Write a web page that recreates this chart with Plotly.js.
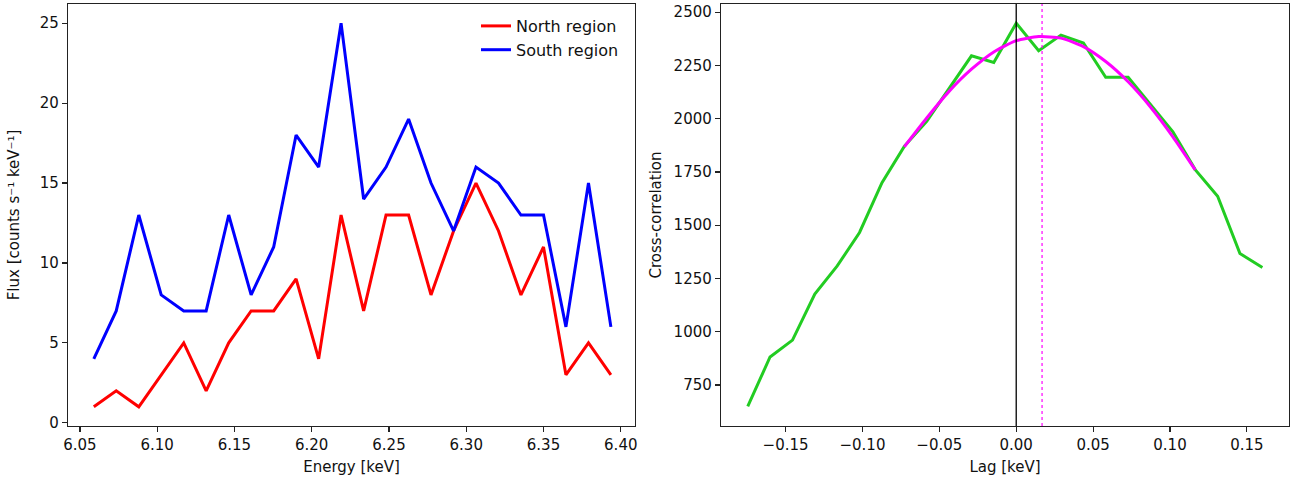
<!DOCTYPE html>
<html>
<head>
<meta charset="utf-8">
<script src="https://cdn.plot.ly/plotly-3.0.1.min.js"></script>
<style>html,body{margin:0;padding:0;background:#fff;}#chart{width:1303px;height:483px;}</style>
</head>
<body>
<div id="chart"></div>
<script>
// ---- Left panel: spectra ----
const energy = [6.0590, 6.0735, 6.0881, 6.1026, 6.1172, 6.1317, 6.1463, 6.1608,
                6.1754, 6.1899, 6.2045, 6.2190, 6.2336, 6.2481, 6.2627, 6.2772,
                6.2918, 6.3063, 6.3209, 6.3354, 6.3500, 6.3645, 6.3791, 6.3936];
const northFlux = [1, 2, 1, 3, 5, 2, 5, 7, 7, 9, 4, 13, 7, 13, 13, 8, 12, 15, 12, 8, 11, 3, 5, 3];
const southFlux = [4, 7, 13, 8, 7, 7, 13, 8, 11, 18, 16, 25, 14, 16, 19, 15, 12, 16, 15, 13, 13, 6, 15, 6];
const seriesNames = ["North region", "South region"];

// ---- Right panel: cross-correlation ----
const lag = [-0.1746, -0.1601, -0.1455, -0.1310, -0.1164, -0.1019, -0.0873, -0.0728,
             -0.0582, -0.0437, -0.0291, -0.0146, 0.0000, 0.0146, 0.0291, 0.0437,
             0.0582, 0.0728, 0.0873, 0.1019, 0.1164, 0.1310, 0.1455, 0.1601];
const crossCorr = [650, 882, 961, 1177, 1309, 1466, 1700, 1870, 1988, 2139, 2295, 2264,
                   2448, 2319, 2392, 2355, 2194, 2194, 2066, 1938, 1761, 1636, 1367, 1302];
const fitLag = [-0.0728, -0.0582, -0.0437, -0.0291, -0.0146, 0.0000, 0.0146,
                0.0291, 0.0437, 0.0582, 0.0728, 0.0873, 0.1019, 0.1164];
const fitValues = [1868, 2003, 2128, 2232, 2313, 2366, 2385, 2378, 2338, 2268, 2173, 2055, 1915, 1760];
const peakLag = 0.0168;

const W = 1303, H = 483;
const FONT = "DejaVu Sans, Liberation Sans, sans-serif";
const axisBase = {
  showline: true, mirror: true, linecolor: "#222", linewidth: 1.2,
  ticks: "outside", ticklen: 5, tickwidth: 1.2, tickcolor: "#222",
  showgrid: false, zeroline: false,
  tickfont: {family: FONT, size: 15, color: "#111"},
  automargin: false
};

const traces = [
  {x: energy, y: northFlux, name: seriesNames[0], type: "scatter", mode: "lines",
   line: {color: "#ff0000", width: 3}, xaxis: "x", yaxis: "y"},
  {x: energy, y: southFlux, name: seriesNames[1], type: "scatter", mode: "lines",
   line: {color: "#0000ff", width: 3}, xaxis: "x", yaxis: "y"},
  {x: lag, y: crossCorr, type: "scatter", mode: "lines", showlegend: false,
   line: {color: "#22cc22", width: 3}, xaxis: "x2", yaxis: "y2"},
  {x: fitLag, y: fitValues, type: "scatter", mode: "lines", showlegend: false,
   line: {color: "#ff00ff", width: 3, shape: "spline", smoothing: 0.6}, xaxis: "x2", yaxis: "y2"}
];

const yDom = [57 / H, 479 / H];
const layout = {
  width: W, height: H,
  margin: {l: 0, r: 0, t: 0, b: 0},
  paper_bgcolor: "#fff", plot_bgcolor: "#fff",
  font: {family: FONT, size: 15, color: "#111"},
  showlegend: true,
  legend: {x: 476 / W, y: 1 - 9 / H, xanchor: "left", yanchor: "top",
           bgcolor: "rgba(0,0,0,0)", font: {family: FONT, size: 16, color: "#111"}},
  xaxis: Object.assign({}, axisBase, {
    domain: [68 / W, 635 / W], range: [6.0423, 6.4092], anchor: "y",
    tick0: 6.0, dtick: 0.05, tickformat: ".2f",
    title: {text: "Energy [keV]", font: {family: FONT, size: 15, color: "#111"}, standoff: 8}
  }),
  yaxis: Object.assign({}, axisBase, {
    domain: yDom, range: [-0.2, 26.2], anchor: "x", tick0: 0, dtick: 5,
    title: {text: "Flux [counts s\u207B\u00B9 keV\u207B\u00B9]", font: {family: FONT, size: 15, color: "#111"}, standoff: 16}
  }),
  xaxis2: Object.assign({}, axisBase, {
    domain: [721 / W, 1289 / W], range: [-0.1920, 0.1774], anchor: "y2",
    tick0: 0, dtick: 0.05, tickformat: ".2f",
    title: {text: "Lag [keV]", font: {family: FONT, size: 15, color: "#111"}, standoff: 8}
  }),
  yaxis2: Object.assign({}, axisBase, {
    domain: yDom, range: [558, 2538], anchor: "x2", tick0: 0, dtick: 250,
    title: {text: "Cross-correlation", font: {family: FONT, size: 15, color: "#111"}, standoff: 8}
  }),
  shapes: [
    {type: "line", xref: "x2", yref: "y2 domain", x0: 0, x1: 0, y0: 0, y1: 1,
     line: {color: "#000", width: 1.3}},
    {type: "line", xref: "x2", yref: "y2 domain", x0: peakLag, x1: peakLag, y0: 0, y1: 1,
     line: {color: "#ff00ff", width: 1.2, dash: "dot"}}
  ]
};

Plotly.newPlot("chart", traces, layout, {displayModeBar: false, staticPlot: true});
</script>
</body>
</html>
